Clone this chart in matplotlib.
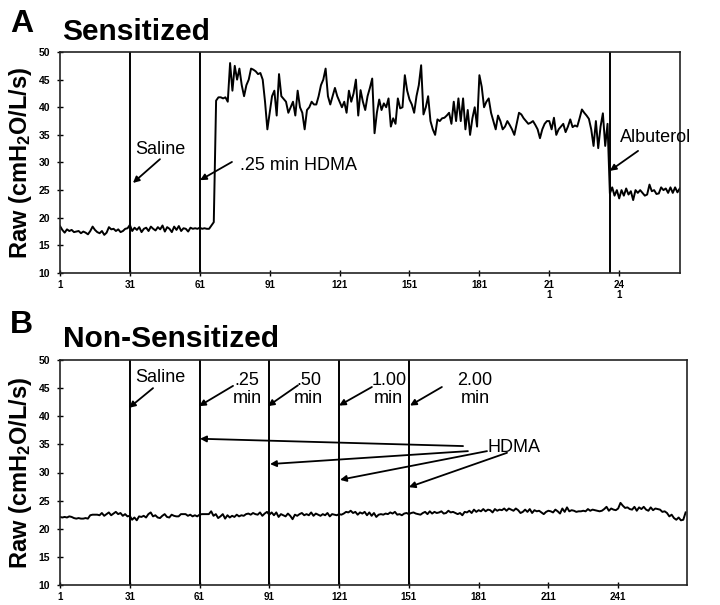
import numpy as np
import matplotlib
matplotlib.use("Agg")
import matplotlib.pyplot as plt

plt.rcParams['font.family'] = ['Liberation Sans', 'DejaVu Sans']
plt.rcParams['mathtext.fontset'] = 'custom'
plt.rcParams['mathtext.rm'] = 'Liberation Sans:bold'
plt.rcParams['mathtext.default'] = 'rm'

# ---------------- Data ----------------
# Panel A (Sensitized): Raw per time point, x = 1 .. 267
sens_baseline = [
    18.5, 17.8, 17.3, 17.9, 17.6, 17.8, 17.4, 17.5, 17.6, 17.2,
    17.5, 17.3, 17.0, 17.6, 18.4, 17.8, 17.4, 17.2, 17.6, 16.9,
    17.3, 18.3, 17.9, 18.0, 17.6, 17.9, 17.4, 17.6, 18.0, 18.1,
    18.7, 17.6, 18.2, 17.8, 18.3, 17.4, 18.0, 18.2, 17.6, 18.4,
    18.0, 17.7, 18.3, 17.9, 18.6, 17.5, 18.3, 18.0, 17.4, 18.4,
    17.8, 18.5, 17.6, 18.1, 18.0, 17.5, 18.2, 18.0, 18.1, 18.0,
    18.2, 18.0, 18.1, 18.0, 18.0, 18.6, 19.2,
]
sens_hdma = [
    41.2, 41.8, 41.8, 41.6, 41.8, 41.0, 48.0, 43.0, 47.5, 45.0,
    47.0, 44.0, 42.0, 44.0, 45.0, 47.0, 46.8, 46.5, 46.0, 46.2,
    45.0, 41.0, 36.0, 39.0, 42.0, 43.0, 38.5, 46.0, 42.0, 41.5,
    41.0, 39.0, 40.0, 41.0, 38.5, 43.0, 40.0, 39.0, 36.0, 39.5,
    40.0, 41.0, 40.5, 40.5, 42.0, 44.0, 45.0, 47.0, 42.0, 40.5,
    42.0, 43.5, 42.0, 41.0, 40.0, 41.0, 39.0, 43.0, 41.0, 42.5,
    45.0, 38.5, 43.1, 41.0, 39.5, 42.0, 43.5, 45.2, 35.3, 39.0,
    41.4, 39.5, 40.7, 40.0, 41.6, 36.5, 38.0, 37.0, 41.6, 39.8,
    40.0, 45.8, 43.0, 41.4, 40.5, 39.0, 42.0, 44.0, 47.6, 38.7,
    40.0, 42.0, 37.5, 36.0, 35.0, 37.8, 37.5, 38.0, 38.1, 38.5,
    39.0, 37.0, 41.0, 37.5, 41.6, 37.5, 41.6, 36.0, 39.5, 35.0,
    38.0, 40.0, 36.5, 45.8, 43.7, 40.0, 41.0, 41.6, 39.0, 37.5,
    36.0, 38.5, 37.5, 36.0, 36.5, 37.5, 36.8, 36.0, 35.0, 37.0,
    39.0, 38.7, 38.0, 37.5, 37.0, 37.2, 37.5, 36.8, 36.0, 34.4,
    36.0, 37.0, 37.5, 37.5, 36.0, 38.1, 35.0, 36.0, 36.5, 37.0,
    35.5, 36.5, 37.8, 36.4, 36.7, 36.5, 38.0, 39.6, 39.0, 38.5,
    37.9, 36.0, 33.0, 37.5, 32.6, 36.5, 38.9, 33.0, 37.0,
]
sens_albuterol = [
    24.4, 25.5, 24.0, 25.0, 23.5, 25.0, 24.0, 25.3, 24.2, 24.8,
    23.2, 25.0, 24.5, 25.0, 24.5, 24.0, 24.2, 26.0, 24.8, 25.0,
    24.3, 24.4, 25.5, 25.0, 25.3, 24.5, 25.5, 24.5, 25.5, 24.6,
    25.3,
]

# Panel B (Non-Sensitized): Raw per time point, x = 1 .. 270
nonsens = [
    22.1, 22.0, 22.1, 22.0, 22.2, 22.1, 21.9, 21.8, 21.9, 21.8,
    21.8, 21.9, 21.8, 22.4, 22.5, 22.5, 22.5, 22.4, 22.8, 22.3,
    22.6, 22.9, 22.4, 22.7, 23.0, 22.6, 22.8, 22.3, 22.6, 22.2,
    22.3, 21.6, 22.0, 21.5, 22.2, 22.1, 22.3, 22.0, 22.6, 22.9,
    22.2, 22.4, 22.0, 21.9, 22.3, 22.6, 22.1, 22.0, 22.5, 22.3,
    22.2, 22.2, 22.6, 22.6, 22.6, 22.3, 22.5, 22.2, 22.4, 22.2,
    22.5, 22.6, 22.6, 22.6, 22.6, 23.1, 22.3, 22.6, 21.9, 22.2,
    22.6, 21.8, 22.4, 22.0, 22.3, 22.1, 22.5, 22.2, 22.4, 22.3,
    22.6, 22.7, 22.5, 22.8, 22.6, 22.5, 22.9, 22.3, 22.7, 23.0,
    22.5, 22.9, 22.4, 22.9, 22.1, 22.6, 22.4, 22.2, 22.7, 22.3,
    21.7, 22.5, 22.3, 22.6, 22.8, 22.4, 22.6, 22.4, 22.9, 22.3,
    22.7, 22.5, 22.3, 22.6, 22.4, 22.8, 22.2, 22.6, 22.5, 22.4,
    22.6, 22.5, 22.7, 23.0, 22.9, 23.2, 22.8, 23.0, 22.5, 22.9,
    22.7, 23.0, 22.4, 22.9, 22.3, 22.8, 22.1, 22.5, 22.6, 22.5,
    22.7, 22.6, 22.9, 22.7, 23.0, 22.5, 22.6, 22.4, 22.7, 22.8,
    22.6, 22.8, 22.9, 22.7, 22.6, 22.5, 22.8, 23.0, 22.6, 23.1,
    22.7, 23.0, 22.8, 22.9, 23.1, 22.7, 22.8, 23.2, 22.9, 23.0,
    22.8, 22.6, 22.8, 22.4, 23.0, 22.9, 23.2, 22.8, 23.4, 23.0,
    23.3, 23.1, 23.5, 23.1, 23.4, 23.3, 22.9, 23.5, 23.2, 23.4,
    23.3, 23.6, 23.2, 23.6, 23.4, 23.2, 23.6, 23.3, 22.8, 23.0,
    23.4, 23.0, 23.5, 22.8, 23.3, 23.1, 23.2, 22.9, 22.6, 23.0,
    23.2, 23.1, 22.9, 23.4, 23.1, 22.7, 23.6, 23.0, 23.8, 23.1,
    23.3, 23.2, 23.0, 23.1, 23.1, 23.2, 23.1, 23.5, 23.2, 23.4,
    23.3, 23.2, 23.1, 23.2, 23.5, 23.9, 23.2, 23.6, 23.4, 23.3,
    23.6, 24.6, 24.1, 23.7, 23.8, 23.5, 23.4, 23.9, 23.2, 23.8,
    23.5, 23.9, 23.4, 23.2, 23.8, 23.3, 23.6, 23.5, 23.4, 23.0,
    23.1, 22.8, 22.2, 22.5, 21.9, 21.6, 22.0, 21.5, 21.6, 22.9,
]

# event markers (vertical lines)
sens_events = [31, 61, 237]
nonsens_events = [31, 61, 91, 121, 151]

# tick labels
y_ticks = [10, 15, 20, 25, 30, 35, 40, 45, 50]
sens_xticks = [1, 31, 61, 91, 121, 151, 181, 211, 241]
sens_xticklabels = ["1", "31", "61", "91", "121", "151", "181", "21\n1", "24\n1"]
nonsens_xticks = [1, 31, 61, 91, 121, 151, 181, 211, 241]
nonsens_xticklabels = ["1", "31", "61", "91", "121", "151", "181", "211", "241"]

ylabel = r"Raw (cmH$_2$O/L/s)"

# ---------------- Figure ----------------
fig = plt.figure(figsize=(7.2, 6.05), dpi=100)
axA = fig.add_axes([60/720, 1 - 273/605, 620/720, 221/605])
axB = fig.add_axes([60/720, 1 - 585/605, 627/720, 225/605])

sens = sens_baseline + sens_hdma + sens_albuterol
xA = np.arange(1, len(sens) + 1)
xB = np.arange(1, len(nonsens) + 1)

def style_axes(ax, xmax, xticks, xticklabels, width_px):
    ax.set_xlim(1, xmax)
    ax.set_ylim(10, 50)
    ax.set_yticks(y_ticks)
    ax.set_yticklabels([str(v) for v in y_ticks])
    ax.set_xticks(xticks)
    ax.set_xticklabels(xticklabels, linespacing=1.0)
    ax.tick_params(axis='both', direction='inout', length=4, width=1.0,
                   colors='black', pad=3)
    ax.tick_params(axis='y', labelsize=7.5, pad=5)
    ax.tick_params(axis='x', labelsize=7)
    for lab in ax.get_xticklabels() + ax.get_yticklabels():
        lab.set_fontweight('bold')
    for sp in ax.spines.values():
        sp.set_linewidth(1.2)
        sp.set_color('#222222')
    ax.set_ylabel(ylabel, fontsize=17, fontweight='bold')
    ax.yaxis.set_label_coords(-(60 - 34) / width_px, 0.5)

# Panel A
axA.plot(xA, sens, color='black', lw=1.4)
for e in sens_events:
    axA.axvline(e, color='black', lw=1.4)
style_axes(axA, 267.1, sens_xticks, sens_xticklabels, 620)

arrow_kw = dict(arrowstyle='-|>', color='black', lw=1.3, mutation_scale=9,
                shrinkA=0, shrinkB=0)
txt_kw = dict(fontsize=13, ha='left', va='center')

axA.text(33.2, 32.3, "Saline", **txt_kw)
axA.annotate("", xy=(32.3, 26.3), xytext=(43.9, 30.6), arrowprops=arrow_kw)
axA.text(78.3, 29.4, ".25 min HDMA", **txt_kw)
axA.annotate("", xy=(61.1, 26.8), xytext=(74.8, 30.1), arrowprops=arrow_kw)
axA.text(241.3, 34.6, "Albuterol", clip_on=False, **txt_kw)
axA.annotate("", xy=(237.0, 28.5), xytext=(249.1, 32.1), arrowprops=arrow_kw)

# Panel B
axB.plot(xB, nonsens, color='black', lw=1.4)
for e in nonsens_events:
    axB.axvline(e, color='black', lw=1.4)
style_axes(axB, 270.6, nonsens_xticks, nonsens_xticklabels, 627)

axB.text(33.2, 46.8, "Saline", **txt_kw)
axB.annotate("", xy=(30.7, 41.5), xytext=(41.0, 45.0), arrowprops=arrow_kw)

dose_labels = [".25\nmin", ".50\nmin", "1.00\nmin", "2.00\nmin"]
dose_text_x = [81.5, 108.0, 142.4, 179.4]
dose_tail = [(75.4, 45.4), (103.3, 45.5), (135.1, 45.2), (165.2, 45.2)]
dose_head = [(60.8, 41.8), (90.4, 41.8), (121.0, 41.9), (151.5, 41.9)]
for lab, tx, tail, head in zip(dose_labels, dose_text_x, dose_tail, dose_head):
    axB.text(tx, 44.8, lab, fontsize=13, ha='center', va='center',
             multialignment='center', linespacing=1.05)
    axB.annotate("", xy=head, xytext=tail, arrowprops=arrow_kw)

axB.text(185.0, 34.5, "HDMA", fontsize=13, ha='left', va='center')
hdma_tails = [(174.3, 34.7), (176.4, 33.8), (184.6, 33.8), (193.2, 33.5)]
hdma_heads = [(61.2, 36.0), (91.3, 31.5), (121.4, 28.7), (151.0, 27.4)]
for tail, head in zip(hdma_tails, hdma_heads):
    axB.annotate("", xy=head, xytext=tail, arrowprops=arrow_kw)

# Panel titles
fig.text(10/720, 1 - 32/605, "A", fontsize=23, fontweight='bold', ha='left', va='baseline')
fig.text(62/720, 1 - 40/605, "Sensitized", fontsize=21.5, fontweight='bold', ha='left', va='baseline')
fig.text(10/720, 1 - 333/605, "B", fontsize=23, fontweight='bold', ha='left', va='baseline')
fig.text(63/720, 1 - 347/605, "Non-Sensitized", fontsize=21.5, fontweight='bold', ha='left', va='baseline')

fig.savefig("out.png", dpi=100)
